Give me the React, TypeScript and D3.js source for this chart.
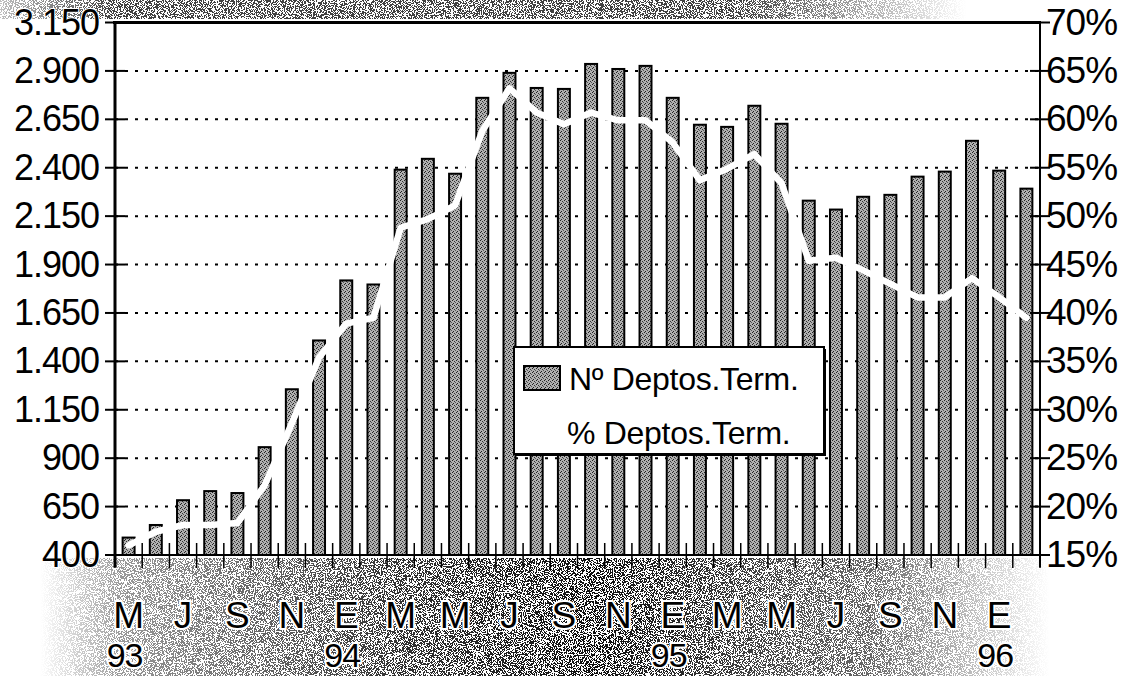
import React from "react";
import * as d3 from "d3";

// Months May 1993 – Feb 1996
const categories = [
  "May93","Jun93","Jul93","Aug93","Sep93","Oct93","Nov93","Dec93",
  "Jan94","Feb94","Mar94","Apr94","May94","Jun94","Jul94","Aug94","Sep94","Oct94","Nov94","Dec94",
  "Jan95","Feb95","Mar95","Apr95","May95","Jun95","Jul95","Aug95","Sep95","Oct95","Nov95","Dec95",
  "Jan96","Feb96",
];
const counts = [
  490, 555, 683, 730, 720, 957, 1256, 1508, 1818, 1797, 2390, 2446, 2369, 2761, 2890, 2812, 2807,
  2936, 2910, 2926, 2761, 2622, 2611, 2720, 2627, 2230, 2184, 2250, 2260, 2354, 2380, 2539, 2385, 2292,
];
const pct = [
  16.0, 17.4, 18.1, 18.1, 18.3, 22.2, 28.6, 35.4, 38.9, 39.5, 48.8, 49.7, 51.1, 58.8, 63.2, 60.7, 59.5,
  60.7, 59.9, 59.9, 57.6, 53.7, 54.9, 56.4, 53.4, 45.4, 45.7, 44.4, 43.0, 41.6, 41.6, 43.6, 41.6, 39.5,
];
const leftTicks = [400, 650, 900, 1150, 1400, 1650, 1900, 2150, 2400, 2650, 2900, 3150];
const rightTicks = [15, 20, 25, 30, 35, 40, 45, 50, 55, 60, 65, 70];
const monthLabels = ["M","J","S","N","E","M","M","J","S","N","E","M","M","J","S","N","E"];
const yearLabels = [
  { cat: "May93", label: "93" },
  { cat: "Jan94", label: "94" },
  { cat: "Jan95", label: "95" },
  { cat: "Jan96", label: "96" },
];
const legendLabels = ["Nº Deptos.Term.", "% Deptos.Term."];

const W = 1137, H = 676;
const L = 115, R = 1040, T = 22.5, B = 555;
const FONT = "'Liberation Sans', Arial, sans-serif";

export default function App() {
  const x = d3.scaleBand<string>().domain(categories).range([L, R]).padding(0);
  const yL = d3.scaleLinear().domain([400, 3150]).range([B, T]);
  const yR = d3.scaleLinear().domain([15, 70]).range([B, T]);
  const bw = x.step() * 0.44;
  const cx = (c: string) => (x(c) as number) + x.bandwidth() / 2;
  const fmtL = (v: number) => d3.format(",")(v).replace(",", ".");
  const line = d3
    .line<number>()
    .x((_, i) => cx(categories[i]))
    .y((d) => yR(d));

  return (
    <svg width={W} height={H} style={{ position: "absolute", left: 0, top: 0, background: "#fff" }}>
      <defs>
        <filter id="speckle" x="0" y="0" width="100%" height="100%">
          <feTurbulence type="fractalNoise" baseFrequency="1.1" numOctaves="2" seed="7" />
          <feColorMatrix type="saturate" values="0" />
          <feComponentTransfer>
            <feFuncR type="discrete" tableValues="0 1" />
            <feFuncG type="discrete" tableValues="0 1" />
            <feFuncB type="discrete" tableValues="0 1" />
            <feFuncA type="linear" slope="0" intercept="1" />
          </feComponentTransfer>
        </filter>
        <linearGradient id="botGradH" x1="0" x2="1" y1="0" y2="0">
          <stop offset="0" stopColor="#fff" stopOpacity="0" />
          <stop offset="0.08" stopColor="#fff" stopOpacity="0.4" />
          <stop offset="0.35" stopColor="#fff" stopOpacity="0.8" />
          <stop offset="0.55" stopColor="#fff" stopOpacity="0.95" />
          <stop offset="0.82" stopColor="#fff" stopOpacity="0.6" />
          <stop offset="1" stopColor="#fff" stopOpacity="0" />
        </linearGradient>
        <linearGradient id="topGrad" x1="0" x2="1" y1="0" y2="0">
          <stop offset="0" stopColor="#fff" stopOpacity="0.25" />
          <stop offset="0.1" stopColor="#fff" stopOpacity="0.75" />
          <stop offset="0.65" stopColor="#fff" stopOpacity="0.75" />
          <stop offset="0.85" stopColor="#fff" stopOpacity="0" />
        </linearGradient>
        <mask id="botMask">
          <rect x={40} y={558} width={1010} height={118} fill="url(#botGradH)" />
        </mask>
        <mask id="topMask">
          <rect x={0} y={0} width={1137} height={19} fill="url(#topGrad)" />
        </mask>
        <pattern id="barFill" width={4} height={4} patternUnits="userSpaceOnUse">
          <rect width={4} height={4} fill="#b0b0b0" />
          <rect x={0} y={0} width={1} height={1} fill="#222" />
          <rect x={2} y={1} width={1} height={1} fill="#333" />
          <rect x={1} y={3} width={1} height={1} fill="#222" />
          <rect x={3} y={2} width={1} height={1} fill="#555" />
        </pattern>
      </defs>

      {/* scanned-paper speckle */}
      <rect x={40} y={558} width={1010} height={118} filter="url(#speckle)" mask="url(#botMask)" />
      <rect x={0} y={0} width={1137} height={19} filter="url(#speckle)" mask="url(#topMask)" />

      {/* gridlines */}
      {leftTicks.slice(1, -1).map((t) => (
        <line key={t} x1={L} x2={R} y1={yL(t)} y2={yL(t)} stroke="#000" strokeWidth={2} strokeDasharray="3 7" />
      ))}

      {/* bars */}
      {categories.map((c, i) => (
        <rect
          key={c}
          x={cx(c) - bw / 2}
          y={yL(counts[i])}
          width={bw}
          height={B - yL(counts[i])}
          fill="url(#barFill)"
          stroke="#000"
          strokeWidth={2}
        />
      ))}

      {/* percentage line (white) */}
      <path d={line(pct) as string} fill="none" stroke="#fff" strokeWidth={6.5} strokeLinejoin="round" strokeLinecap="round" />

      {/* x-axis ticks */}
      {d3.range(categories.length + 1).map((i) => {
        const xx = L + i * x.step();
        return <line key={i} x1={xx} x2={xx} y1={B - 12} y2={B + 13} stroke="#000" strokeWidth={1.5} />;
      })}

      {/* frame */}
      <line x1={L - 2} x2={R + 1} y1={T} y2={T} stroke="#000" strokeWidth={3} />
      <line x1={L} x2={L} y1={T - 1} y2={B + 12} stroke="#000" strokeWidth={3} />
      <line x1={R} x2={R} y1={T - 1} y2={B + 12} stroke="#000" strokeWidth={2} />
      <line x1={L - 3} x2={R + 10} y1={B} y2={B} stroke="#000" strokeWidth={2} />

      {/* left axis */}
      {leftTicks.map((t) => (
        <g key={t}>
          <line x1={L - 10} x2={L + 10} y1={yL(t)} y2={yL(t)} stroke="#000" strokeWidth={2} />
          <text
            x={L - 16}
            y={yL(t) + 12}
            textAnchor="end"
            fontFamily={FONT}
            fontSize={36}
            letterSpacing={-1}
            fill="#000"
            stroke="#fff"
            strokeWidth={2}
            paintOrder="stroke"
          >
            {fmtL(t)}
          </text>
        </g>
      ))}

      {/* right axis */}
      {rightTicks.map((t) => (
        <g key={t}>
          <line x1={R - 10} x2={R + 10} y1={yR(t)} y2={yR(t)} stroke="#000" strokeWidth={2} />
          <text x={R + 6} y={yR(t) + 12} textAnchor="start" fontFamily={FONT} fontSize={37} letterSpacing={-1} fill="#000">
            {t}%
          </text>
        </g>
      ))}

      {/* month labels */}
      {monthLabels.map((m, k) => (
        <text
          key={k}
          x={cx(categories[k * 2])}
          y={628}
          textAnchor="middle"
          fontFamily={FONT}
          fontSize={37}
          fill="#000"
          stroke="#fff"
          strokeWidth={4}
          paintOrder="stroke"
        >
          {m}
        </text>
      ))}
      {yearLabels.map((yl) => (
        <text
          key={yl.label}
          x={cx(yl.cat) - 4}
          y={667}
          textAnchor="middle"
          fontFamily={FONT}
          fontSize={34}
          letterSpacing={-1}
          fill="#000"
          stroke="#fff"
          strokeWidth={4}
          paintOrder="stroke"
        >
          {yl.label}
        </text>
      ))}

      {/* legend */}
      <rect x={516} y={349} width={310} height={107} fill="#000" />
      <rect x={514} y={347} width={310} height={107} fill="#fff" stroke="#000" strokeWidth={2} />
      <rect x={524} y={366} width={36} height={24} fill="url(#barFill)" stroke="#000" strokeWidth={2} />
      <text x={569} y={390} fontFamily={FONT} fontSize={32} letterSpacing={-0.3} fill="#000">
        {legendLabels[0]}
      </text>
      <text x={567} y={444} fontFamily={FONT} fontSize={32} letterSpacing={-0.3} fill="#000">
        {legendLabels[1]}
      </text>
    </svg>
  );
}
